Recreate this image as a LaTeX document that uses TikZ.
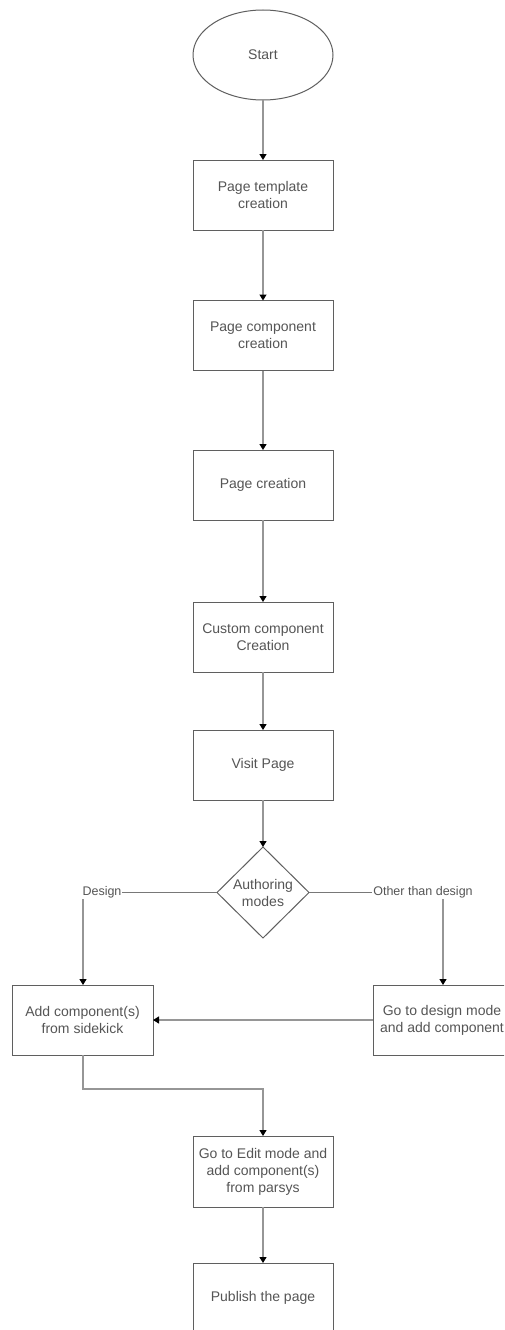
\documentclass[tikz,border=0pt]{standalone}
\usepackage{fontspec}
\setmainfont{Liberation Sans}
\usetikzlibrary{arrows.meta,shapes.geometric}
\definecolor{inkgray}{RGB}{85,85,85}
\definecolor{edgegray}{RGB}{150,150,150}
\definecolor{framegray}{RGB}{95,95,95}

\begin{document}
\begin{tikzpicture}[x=1pt,y=-1pt,
  txt/.style={text=inkgray, font=\fontsize{14pt}{17pt}\selectfont, align=center},
  box/.style={txt, draw=framegray, line width=1pt, minimum width=140pt,
              minimum height=70pt, inner sep=0pt, outer sep=0pt},
  startnode/.style={txt, ellipse, draw=framegray, line width=1pt,
              minimum width=140pt, minimum height=90pt, inner sep=0pt, outer sep=0pt},
  decision/.style={txt, diamond, draw=framegray, line width=1pt, aspect=1,
              minimum width=92pt, minimum height=91pt, inner sep=0pt, outer sep=0pt},
  lbl/.style={text=inkgray, font=\fontsize{12.5pt}{15pt}\selectfont,
              fill=white, inner sep=1pt},
  flow/.style={draw=edgegray, line width=1.2pt,
              -{Triangle[width=7pt,length=6pt,color=black]}},
  link/.style={draw=edgegray!80!black, line width=0.9pt},
]
\useasboundingbox (0,0) rectangle (504,1330);
\fill[white] (0,0) rectangle (504,1330);
\clip (0,0) rectangle (504,1330);

% main column
\node[startnode] (start) at (263,55) {Start};
\node[box] (tmpl) at (263,195) {Page template\\creation};
\node[box] (comp) at (263,335.5) {Page component\\creation};
\node[box] (page) at (263,485) {Page creation};
\node[box] (cust) at (263,637) {Custom component\\Creation};
\node[box] (visit) at (263,765) {Visit Page};
\node[decision] (mode) at (263,892.5) {Authoring\\modes};

% the two branches
\node[box, minimum width=141pt] (side) at (82.5,1020) {Add component(s)\\from sidekick};
\node[box] (design) at (443,1020) {};
\node[txt] (designtxt) at (442,1020) {Go to design mode\\and add component};

% final steps
\node[box, minimum height=71pt] (edit) at (263,1171.5) {Go to Edit mode and\\add component(s)\\from parsys};
\node[box] (pub) at (263,1298) {Publish the page};

% straight connectors
\draw[flow] (start) -- (tmpl);
\draw[flow] (tmpl) -- (comp);
\draw[flow] (comp) -- (page);
\draw[flow] (page) -- (cust);
\draw[flow] (cust) -- (visit);
\draw[flow] (visit) -- (mode);

% branch connectors with their labels
\coordinate (lbend) at (83,892.5);
\coordinate (rbend) at (443,892.5);
\draw[link] (mode.west) -- (lbend);
\draw[flow] (lbend) -- (side.north -| lbend);
\draw[link] (mode.east) -- (rbend);
\draw[flow] (rbend) -- (design.north);
\node[lbl] (dlab) at (102,892.5) {Design};
\node[lbl] (olab) at (423,892.5) {Other than design};

\draw[flow] (design.west) -- (side.east);

\coordinate (jog) at (263,1089);
\draw[flow] (side.south -| lbend) |- (jog) -- (edit.north);
\draw[flow] (edit) -- (pub);
\end{tikzpicture}
\end{document}
